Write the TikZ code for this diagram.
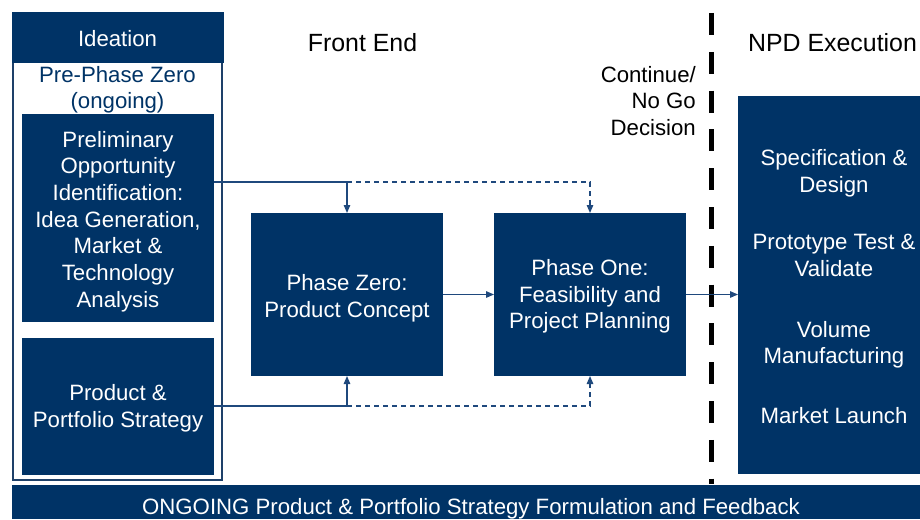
\documentclass[tikz,border=0pt]{standalone}
\usepackage{fontspec}
\setmainfont{Liberation Sans}
\usetikzlibrary{arrows.meta}
\definecolor{navy}{RGB}{0,51,102}
\definecolor{linkblue}{RGB}{31,73,125}
\definecolor{framecol}{RGB}{30,64,105}
\tikzset{
 blockbox/.style={fill=navy, draw=none, inner sep=0pt, outer sep=0pt, anchor=north west},
 boxtext/.style={text=white, font=\fontsize{22.2}{26.7}\selectfont, align=center, inner sep=0pt, anchor=north},
 headtext/.style={font=\fontsize{24.9}{29}\selectfont, inner sep=0pt, anchor=base},
 plaintext/.style={font=\fontsize{22.2}{26.7}\selectfont, inner sep=0pt},
 link/.style={draw=linkblue, line width=1.3pt},
 linkarrow/.style={link, -{Triangle[length=8pt,width=6.5pt]}},
 dashedlink/.style={link, dash pattern=on 5pt off 4pt, -{Triangle[length=8pt,width=6.5pt]}},
 gateline/.style={line width=5.5pt, dash pattern=on 22pt off 16.8pt},
}
\begin{document}
\begin{tikzpicture}[x=1pt,y=-1pt]
\useasboundingbox (0,0) rectangle (920,519);
% Ideation frame
\node[draw=framecol, line width=2.5pt, inner sep=0pt, outer sep=0pt, anchor=north west, minimum width=209pt, minimum height=466pt] (frame) at (13.2,14.2) {};
\node[blockbox, minimum width=211.5pt, minimum height=50.5pt] (header) at (12,12.5) {};
\node[plaintext, text=white, anchor=base] (ideation) at (117.5,46.7) {Ideation};
\node[plaintext, text=navy, align=center, anchor=north] (prephase) at (117.5,65.9) {Pre-Phase Zero\\(ongoing)};
% boxes
\node[blockbox, minimum width=192pt, minimum height=208pt] (prelim) at (22,114) {};
\node[blockbox, minimum width=192pt, minimum height=137pt] (pp) at (22,338) {};
\node[blockbox, minimum width=192pt, minimum height=163pt] (pz) at (251,213) {};
\node[blockbox, minimum width=192pt, minimum height=163pt] (po) at (494,213) {};
\node[blockbox, minimum width=182pt, minimum height=378pt] (npd) at (738,96) {};
\node[blockbox, minimum width=908pt, minimum height=34pt] (bar) at (12,485) {};
% box texts
\node[boxtext] (prelimtxt) at (118,130.9) {Preliminary\\Opportunity\\Identification:\\Idea Generation,\\Market \&\\Technology\\Analysis};
\node[boxtext] (pptxt) at (118,384.2) {Product \&\\Portfolio Strategy};
\node[boxtext] (pztxt) at (347,274.2) {Phase Zero:\\Product Concept};
\node[boxtext] (potxt) at (590,259.2) {Phase One:\\Feasibility and\\Project Planning};
\node[boxtext] (spec) at (834,149.2) {Specification \&\\Design};
\node[boxtext] (proto) at (834,234.2) {Prototype Test \&\\Validate};
\node[boxtext] (vol) at (834,320.9) {Volume\\Manufacturing};
\node[boxtext, anchor=base] (launch) at (834,423.3) {Market Launch};
\node[plaintext, text=white, anchor=base] (ongoing) at (471,514.5) {ONGOING Product \& Portfolio Strategy Formulation and Feedback};
% headings
\node[headtext] (frontend) at (362.5,51.7) {Front End};
\node[headtext] (npdexec) at (832.5,51.7) {NPD Execution};
\node[plaintext, align=right, anchor=north east] (decision) at (696,65.9) {Continue/\\No Go\\Decision};
% gate line
\coordinate (gtop) at (711.5,13);
\coordinate (gbot) at (711.5,484);
\draw[gateline] (gtop) -- (gbot);
% connectors
\coordinate (ja) at (347,182);
\coordinate (jb) at (590,182);
\coordinate (jc) at (347,406);
\coordinate (jd) at (590,406);
\draw[link] (prelim.east |- ja) -- (ja);
\draw[linkarrow] (ja) -- (pz.north);
\draw[dashedlink] (ja) -- (jb) -- (po.north);
\draw[link] (pp.east |- jc) -- (jc);
\draw[linkarrow] (jc) -- (pz.south);
\draw[dashedlink] (jc) -- (jd) -- (po.south);
\draw[linkarrow] (pz.east) -- (po.west);
\draw[linkarrow] (po.east) -- (npd.west |- po.east);
\end{tikzpicture}
\end{document}
